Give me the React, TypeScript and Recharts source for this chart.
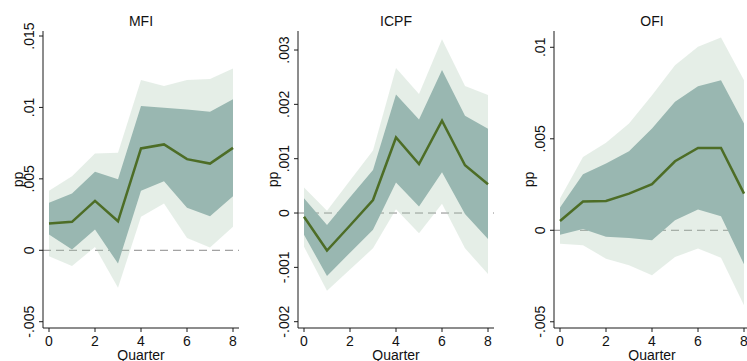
import React from "react";
import { Area, CartesianGrid, ComposedChart, Line, XAxis, YAxis } from "recharts";

const QUARTERS = [0, 1, 2, 3, 4, 5, 6, 7, 8];
const X_TICKS = [0, 2, 4, 6, 8];

// MFI
const MFI_MID = [0.00187, 0.00199, 0.00346, 0.00203, 0.00713, 0.00741, 0.00638, 0.00607, 0.00717];
const MFI_DARK_HI = [0.00332, 0.00397, 0.00549, 0.00498, 0.0101, 0.00998, 0.00986, 0.0097, 0.01058];
const MFI_DARK_LO = [0.0011, 0.00005, 0.00145, -0.00093, 0.00416, 0.00484, 0.00297, 0.00238, 0.00379];
const MFI_LIGHT_HI = [0.00416, 0.00519, 0.00678, 0.00682, 0.01192, 0.0115, 0.01192, 0.01199, 0.01273];
const MFI_LIGHT_LO = [-0.00042, -0.0011, 0.00023, -0.00262, 0.00234, 0.00327, 0.00086, 0.00019, 0.00164];
const MFI_TICKS = [-0.005, 0, 0.005, 0.01, 0.015];

// ICPF
const ICPF_MID = [-0.00007, -0.00069, -0.00023, 0.00024, 0.00139, 0.0009, 0.0017, 0.00088, 0.00053];
const ICPF_DARK_HI = [0.00027, -0.00022, 0.00029, 0.00079, 0.00218, 0.00172, 0.00263, 0.00179, 0.00155];
const ICPF_DARK_LO = [-0.0004, -0.00116, -0.00073, -0.00031, 0.00056, 0.00012, 0.00075, -0.00002, -0.00048];
const ICPF_LIGHT_HI = [0.00047, 0.00004, 0.0006, 0.00115, 0.00267, 0.00219, 0.0032, 0.00234, 0.00217];
const ICPF_LIGHT_LO = [-0.00062, -0.00143, -0.00104, -0.00065, 0.00007, -0.00037, 0.00017, -0.00065, -0.00112];
const ICPF_TICKS = [-0.002, -0.001, 0, 0.001, 0.002, 0.003];

// OFI
const OFI_MID = [0.00051, 0.00157, 0.0016, 0.002, 0.00252, 0.00377, 0.0045, 0.0045, 0.002];
const OFI_DARK_HI = [0.00124, 0.00306, 0.00365, 0.00432, 0.00556, 0.00702, 0.00787, 0.0082, 0.00583];
const OFI_DARK_LO = [-0.00024, 0.00007, -0.00036, -0.00042, -0.00055, 0.00055, 0.00113, 0.00077, -0.00186];
const OFI_LIGHT_HI = [0.00173, 0.00401, 0.00478, 0.00583, 0.00738, 0.00902, 0.01003, 0.01054, 0.0082];
const OFI_LIGHT_LO = [-0.00073, -0.00082, -0.00155, -0.00191, -0.00246, -0.00146, -0.001, -0.0015, -0.0041];
const OFI_TICKS = [-0.005, 0, 0.005, 0.01];

const FONT = "'Liberation Sans', Arial, Helvetica, sans-serif";
const LIGHT = "#a8c8ae"; // drawn at 30% so the zero line shows through
const DARK = "#99b7b1";
const LINE = "#4d6d26";
const AXIS = "#1a1a1a";

// stata style: .015, -.005
const fmt = (v: number) => (v === 0 ? "0" : String(+v.toFixed(4)).replace(/^(-?)0\./, "$1."));

function YTick(props: any) {
  const { x, y, payload } = props;
  return (
    <text
      x={x}
      y={y}
      transform={`rotate(-90, ${x}, ${y})`}
      textAnchor="middle"
      fontSize={14}
      fontFamily={FONT}
      fill="#111"
    >
      {fmt(payload.value)}
    </text>
  );
}

const W = 250;
const H = 361;
const TOP = 31;
const LEFT = 43;
const PLOT_W = 196;
const BOTTOM = 33;

type PanelProps = {
  title: string;
  left: number;
  mid: number[];
  darkLo: number[];
  darkHi: number[];
  lightLo: number[];
  lightHi: number[];
  ticks: number[];
  domain: [number, number];
};

function Panel({ title, left, mid, darkLo, darkHi, lightLo, lightHi, ticks, domain }: PanelProps) {
  const data = QUARTERS.map((q, i) => ({
    q,
    mid: mid[i],
    dark: [darkLo[i], darkHi[i]],
    light: [lightLo[i], lightHi[i]],
  }));
  const cx = LEFT + PLOT_W / 2;
  const cy = (TOP + H - BOTTOM) / 2;
  return (
    <div style={{ position: "absolute", left, top: 0, width: W, height: H }}>
      <ComposedChart
        width={W}
        height={H}
        data={data}
        margin={{ top: TOP, right: W - LEFT - PLOT_W, bottom: 0, left: 0 }}
      >
        {/* zero line sits under the bands */}
        <CartesianGrid
          vertical={false}
          horizontalValues={[0]}
          stroke="#8a8a8a"
          strokeDasharray="8 5"
        />
        <XAxis
          dataKey="q"
          type="number"
          domain={[0, 8]}
          ticks={X_TICKS}
          padding={{ left: 6, right: 6 }}
          height={BOTTOM}
          tickSize={4}
          tickMargin={4}
          tick={{ fontSize: 14, fontFamily: FONT, fill: "#111" }}
          axisLine={{ stroke: AXIS }}
          tickLine={{ stroke: AXIS }}
        />
        <XAxis
          xAxisId="top"
          orientation="top"
          type="number"
          domain={[0, 8]}
          height={0}
          tick={false}
          tickLine={false}
          axisLine={{ stroke: AXIS }}
        />
        <YAxis
          type="number"
          domain={domain}
          ticks={ticks}
          allowDataOverflow
          width={LEFT}
          tickSize={4}
          tickMargin={5}
          tick={<YTick />}
          axisLine={{ stroke: AXIS }}
          tickLine={{ stroke: AXIS }}
        />
        <YAxis
          yAxisId="right"
          orientation="right"
          type="number"
          domain={domain}
          width={0}
          tick={false}
          tickLine={false}
          axisLine={{ stroke: AXIS }}
        />
        <Area
          dataKey="light"
          type="linear"
          stroke="none"
          fill={LIGHT}
          fillOpacity={0.3}
          isAnimationActive={false}
          activeDot={false}
        />
        <Area
          dataKey="dark"
          type="linear"
          stroke="none"
          fill={DARK}
          fillOpacity={1}
          isAnimationActive={false}
          activeDot={false}
        />
        <Line
          dataKey="mid"
          type="linear"
          stroke={LINE}
          strokeWidth={2.5}
          dot={false}
          activeDot={false}
          isAnimationActive={false}
        />
      </ComposedChart>
      <svg
        width={W}
        height={H}
        style={{ position: "absolute", left: 0, top: 0, pointerEvents: "none" }}
        fontFamily={FONT}
      >
        <text x={cx} y={26} textAnchor="middle" fontSize={14} fill="#111">
          {title}
        </text>
        <text x={cx} y={360} textAnchor="middle" fontSize={14} fill="#111">
          Quarter
        </text>
        <text
          x={LEFT - 20}
          y={cy}
          transform={`rotate(-90, ${LEFT - 20}, ${cy})`}
          textAnchor="middle"
          fontSize={14}
          fill="#111"
        >
          pp
        </text>
      </svg>
    </div>
  );
}

export default function App() {
  return (
    <div
      style={{
        position: "absolute",
        left: 0,
        top: 0,
        width: 747,
        height: 361,
        overflow: "hidden",
        background: "#fff",
      }}
    >
      <Panel
        title="MFI"
        left={0}
        mid={MFI_MID}
        darkLo={MFI_DARK_LO}
        darkHi={MFI_DARK_HI}
        lightLo={MFI_LIGHT_LO}
        lightHi={MFI_LIGHT_HI}
        ticks={MFI_TICKS}
        domain={[-0.00544, 0.01535]}
      />
      <Panel
        title="ICPF"
        left={255}
        mid={ICPF_MID}
        darkLo={ICPF_DARK_LO}
        darkHi={ICPF_DARK_HI}
        lightLo={ICPF_LIGHT_LO}
        lightHi={ICPF_LIGHT_HI}
        ticks={ICPF_TICKS}
        domain={[-0.002116, 0.00335]}
      />
      <Panel
        title="OFI"
        left={511}
        mid={OFI_MID}
        darkLo={OFI_DARK_LO}
        darkHi={OFI_DARK_HI}
        lightLo={OFI_LIGHT_LO}
        lightHi={OFI_LIGHT_HI}
        ticks={OFI_TICKS}
        domain={[-0.00534, 0.01089]}
      />
    </div>
  );
}
